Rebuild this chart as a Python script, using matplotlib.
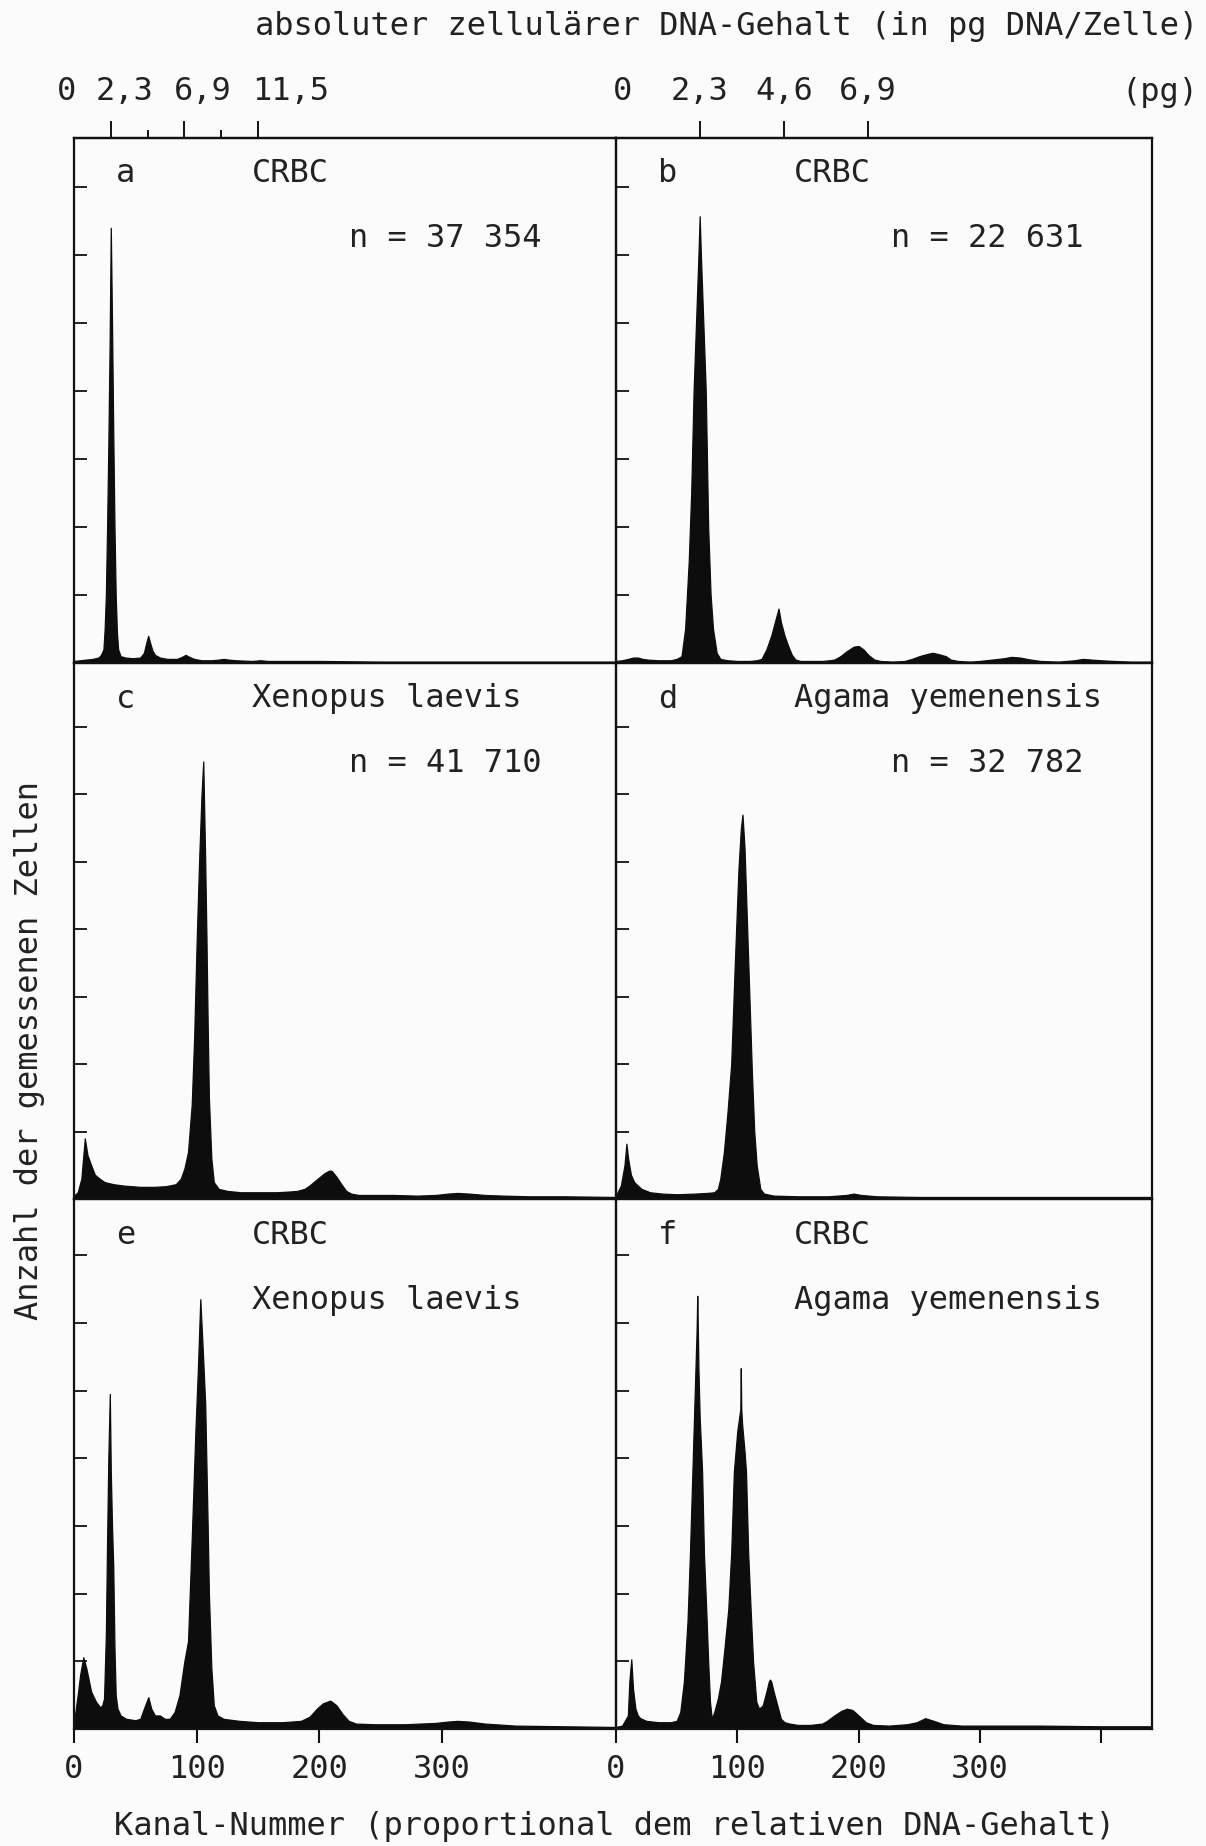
import matplotlib
matplotlib.use('Agg')
import matplotlib.pyplot as plt
import matplotlib.transforms as mtransforms

# ---------------- data (channel number, relative cell count in y-tick units) ----------------
a_ch = [0, 5, 10, 15, 20, 22, 24, 25, 26, 27, 28, 29, 30, 31, 32, 33, 34, 35, 36, 38, 42, 48, 54, 57,
        59, 60.5, 62, 64, 66, 70, 76, 84, 88, 91, 94, 98, 104, 112, 118, 122, 126, 132, 145, 152, 158,
        170, 200, 250, 300, 350, 400, 442]
a_cnt = [0.03, 0.04, 0.05, 0.06, 0.08, 0.12, 0.2, 0.5, 1.0, 2.0, 3.2, 4.6, 6.4, 5.0, 3.4, 2.0, 1.0, 0.45,
         0.2, 0.1, 0.08, 0.07, 0.08, 0.15, 0.3, 0.4, 0.3, 0.18, 0.12, 0.08, 0.06, 0.06, 0.09, 0.12, 0.09,
         0.06, 0.04, 0.04, 0.05, 0.06, 0.05, 0.04, 0.03, 0.04, 0.03, 0.03, 0.03, 0.02, 0.02, 0.02, 0.02, 0.02]

b_ch = [0, 5, 10, 14, 18, 22, 26, 35, 45, 50, 54, 57, 60, 62, 64, 66, 68, 69, 70, 72, 74, 76, 78, 80, 83,
        86, 92, 100, 110, 116, 120, 124, 128, 131, 134, 136, 139, 142, 145, 148, 152, 160, 170, 176, 180,
        185, 190, 196, 200, 204, 208, 213, 218, 228, 238, 244, 250, 256, 261, 266, 272, 276, 282, 292,
        300, 310, 320, 326, 333, 342, 350, 365, 378, 385, 392, 400, 410, 425, 442]
b_cnt = [0.03, 0.04, 0.06, 0.08, 0.08, 0.06, 0.05, 0.04, 0.04, 0.06, 0.1, 0.5, 1.5, 2.5, 4.0, 5.0, 6.0,
         6.57, 6.0, 5.0, 4.0, 2.0, 1.0, 0.5, 0.15, 0.06, 0.04, 0.03, 0.03, 0.04, 0.06, 0.2, 0.4, 0.6, 0.8,
         0.6, 0.4, 0.25, 0.12, 0.05, 0.03, 0.03, 0.03, 0.04, 0.05, 0.1, 0.17, 0.24, 0.25, 0.2, 0.12, 0.05,
         0.03, 0.02, 0.03, 0.06, 0.1, 0.13, 0.15, 0.13, 0.1, 0.05, 0.03, 0.02, 0.03, 0.05, 0.07, 0.09,
         0.08, 0.05, 0.03, 0.02, 0.04, 0.06, 0.05, 0.04, 0.03, 0.02, 0.02]

c_ch = [0, 3, 6, 8.8, 11, 14, 17, 21, 25, 32, 40, 54, 65, 75, 83, 87, 90, 93, 96, 98, 100, 102, 104,
        105.4, 107, 108, 109, 110, 112, 114, 118, 125, 136, 150, 165, 175, 182, 188, 192, 196, 200, 204,
        208, 210, 214, 218, 222, 226, 232, 245, 260, 280, 295, 305, 313, 322, 335, 350, 371, 400, 442]
c_cnt = [0.05, 0.1, 0.3, 0.9, 0.65, 0.5, 0.36, 0.3, 0.25, 0.22, 0.2, 0.18, 0.18, 0.19, 0.22, 0.3, 0.45,
         0.7, 1.4, 2.4, 3.8, 5.0, 6.0, 6.49, 5.0, 3.9, 2.6, 1.5, 0.6, 0.25, 0.15, 0.12, 0.1, 0.1, 0.1,
         0.11, 0.12, 0.15, 0.2, 0.26, 0.32, 0.38, 0.42, 0.42, 0.33, 0.22, 0.12, 0.08, 0.06, 0.06, 0.06,
         0.05, 0.06, 0.08, 0.09, 0.08, 0.06, 0.05, 0.04, 0.04, 0.03]

d_ch = [0, 4, 7, 8.6, 10, 12.3, 15, 21, 28, 38, 50, 65, 75, 81, 84, 86, 89, 92, 95, 98, 101, 103, 104.3,
        106, 108, 110, 112, 114, 116, 119, 122, 130, 150, 175, 190, 196, 202, 215, 250, 300, 350, 400, 442]
d_cnt = [0.05, 0.2, 0.5, 0.82, 0.6, 0.36, 0.25, 0.15, 0.1, 0.08, 0.07, 0.08, 0.09, 0.1, 0.15, 0.3, 0.7,
         1.3, 2.0, 3.5, 4.9, 5.5, 5.7, 5.2, 4.1, 3.0, 1.9, 1.0, 0.5, 0.15, 0.08, 0.05, 0.04, 0.04, 0.06,
         0.08, 0.06, 0.04, 0.03, 0.03, 0.03, 0.03, 0.03]

e_ch = [0, 3, 5, 7.6, 10, 14, 18, 21.5, 23, 24.5, 26, 27, 28, 29.2, 30, 31, 32, 33, 34, 35.5, 38, 42.6,
        50, 54, 57, 60.6, 63, 66, 70, 74, 78, 82, 86, 90, 93, 96, 99, 101, 103, 105, 107, 109, 110, 112,
        114, 117, 122, 135, 150, 170, 185, 192, 198, 203, 209, 214, 219, 224, 230, 245, 270, 295, 305,
        313, 322, 335, 360, 400, 442]
e_cnt = [0.1, 0.5, 0.8, 1.06, 0.9, 0.55, 0.4, 0.32, 0.35, 0.45, 1.4, 2.8, 4.0, 4.95, 3.8, 3.0, 2.4, 1.2,
         0.5, 0.3, 0.2, 0.15, 0.13, 0.15, 0.3, 0.47, 0.3, 0.2, 0.2, 0.15, 0.15, 0.25, 0.5, 1.0, 1.3, 2.8,
         4.4, 5.3, 6.35, 5.6, 4.8, 3.0, 2.0, 0.9, 0.35, 0.2, 0.15, 0.12, 0.1, 0.1, 0.12, 0.18, 0.3, 0.38,
         0.42, 0.35, 0.22, 0.12, 0.08, 0.07, 0.07, 0.09, 0.11, 0.12, 0.11, 0.08, 0.05, 0.04, 0.03]

f_ch = [0, 5, 9.8, 11, 12.6, 14, 16, 18, 20, 25, 35, 45, 50, 53, 56, 59, 61, 63, 65, 66, 66.5, 67, 67.5,
        68, 69, 71, 72.5, 74.4, 76, 77.5, 79, 81, 84, 86.6, 89.5, 92.6, 95, 97.2, 100, 102.5, 102.9, 103.3,
        104, 106, 107.2, 109, 111, 113, 115.7, 118, 121, 124, 126, 127, 128, 130, 133, 136, 139, 143, 150,
        160, 170, 174, 180, 186, 190.5, 195, 200, 206, 212, 225, 240, 248, 255, 262, 270, 285, 310, 350,
        400, 442]
f_cnt = [0.03, 0.05, 0.2, 0.7, 1.03, 0.6, 0.3, 0.2, 0.16, 0.12, 0.1, 0.1, 0.12, 0.25, 0.7, 1.6, 2.6, 3.8,
         5.0, 5.6, 5.9, 6.4, 5.9, 5.3, 4.6, 3.8, 2.6, 1.77, 1.0, 0.4, 0.15, 0.25, 0.45, 0.7, 1.2, 1.77, 2.6,
         3.8, 4.4, 4.72, 5.33, 4.72, 4.5, 4.1, 3.8, 2.6, 1.77, 1.0, 0.4, 0.3, 0.35, 0.55, 0.7, 0.73, 0.7,
         0.55, 0.35, 0.15, 0.1, 0.08, 0.06, 0.06, 0.08, 0.12, 0.2, 0.27, 0.3, 0.28, 0.2, 0.1, 0.06, 0.05,
         0.07, 0.1, 0.16, 0.12, 0.07, 0.05, 0.05, 0.05, 0.04, 0.04]

panel_letters = ['a', 'b', 'c', 'd', 'e', 'f']
panel_line1 = ['CRBC', 'CRBC', 'Xenopus laevis', 'Agama yemenensis', 'CRBC', 'CRBC']
panel_line2 = ['n = 37 354', 'n = 22 631', 'n = 41 710', 'n = 32 782', 'Xenopus laevis', 'Agama yemenensis']

bottom_ticks_left = [0, 100, 200, 300]
bottom_ticks_right = [0, 100, 200, 300, 400]
bottom_labels_right = ['0', '100', '200', '300', '']
top_pg_left_major = [2.3, 6.9, 11.5]
top_pg_left_minor = [4.6, 9.2]
top_pg_left_labels = ['0', '2,3', '6,9', '11,5']
top_pg_right = [2.3, 4.6, 6.9]
top_pg_right_labels = ['0', '2,3', '4,6', '6,9']
ch_per_pg_left = 13.04
ch_per_pg_right = 30.1

# ---------------- layout ----------------
plt.rcParams['font.family'] = ['DejaVu Sans Mono', 'DejaVu Sans']
FS = 23
TXT = '#222222'
INK = '#0d0d0d'
W, H = 1206, 1846
fig = plt.figure(figsize=(W / 100, H / 100), dpi=100, facecolor='#fbfbfb')

col_x = [(74, 616), (616, 1152)]
row_y = [(138, 663), (663, 1199), (1199, 1729)]
row_ylim = [7.72, 7.95, 7.83]
XMAX = 442

data = [(a_ch, a_cnt), (b_ch, b_cnt), (c_ch, c_cnt), (d_ch, d_cnt), (e_ch, e_cnt), (f_ch, f_cnt)]

axes = []
for i, (ch, cnt) in enumerate(data):
    row, col = divmod(i, 2)
    x0, x1 = col_x[col]
    y0, y1 = row_y[row]
    ax = fig.add_axes([x0 / W, 1 - y1 / H, (x1 - x0) / W, (y1 - y0) / H])
    ax.set_facecolor('none')
    ax.fill_between(ch, cnt, 0, color=INK, linewidth=0.9, edgecolor=INK)
    ax.set_xlim(0, XMAX)
    ax.set_ylim(0, row_ylim[row])
    for sp in ax.spines.values():
        sp.set_linewidth(1.6)
        sp.set_color('#111111')
    ax.set_yticks([1, 2, 3, 4, 5, 6, 7])
    ax.tick_params(axis='y', direction='in', length=9, width=1.3, labelleft=False, color='#111111')
    if row == 2:
        if col == 0:
            ax.set_xticks(bottom_ticks_left)
            ax.set_xticklabels([str(t) for t in bottom_ticks_left])
        else:
            ax.set_xticks(bottom_ticks_right)
            ax.set_xticklabels(bottom_labels_right)
        ax.tick_params(axis='x', direction='out', length=10, width=1.5, pad=8,
                       labelsize=FS, labelcolor=TXT, color='#111111')
    else:
        ax.set_xticks([])
    # panel texts
    ax.annotate(panel_letters[i], xy=(0, 1), xycoords='axes fraction', xytext=(52, -36),
                textcoords='offset pixels', ha='center', va='center', fontsize=FS, color=TXT)
    ax.annotate(panel_line1[i], xy=(0, 1), xycoords='axes fraction', xytext=(178, -36),
                textcoords='offset pixels', ha='left', va='center', fontsize=FS, color=TXT)
    x2 = 275 if panel_line2[i].startswith('n') else 178
    ax.annotate(panel_line2[i], xy=(0, 1), xycoords='axes fraction', xytext=(x2, -101),
                textcoords='offset pixels', ha='left', va='center', fontsize=FS, color=TXT)
    axes.append(ax)

# ---------------- top pg axes ----------------
axL, axR = axes[0], axes[1]
secL = axL.secondary_xaxis('top', functions=(lambda c: c / ch_per_pg_left, lambda p: p * ch_per_pg_left))
secL.set_xticks(top_pg_left_major)
secL.set_xticks(top_pg_left_minor, minor=True)
secL.set_xticklabels([''] * len(top_pg_left_major))
secL.tick_params(which='major', direction='out', length=12, width=1.4, color='#111111')
secL.tick_params(which='minor', direction='out', length=6, width=1.4, color='#111111')
secL.spines['top'].set_linewidth(1.6)

secR = axR.secondary_xaxis('top', functions=(lambda c: c / ch_per_pg_right, lambda p: p * ch_per_pg_right))
secR.set_xticks(top_pg_right)
secR.set_xticklabels([''] * len(top_pg_right))
secR.tick_params(which='major', direction='out', length=12, width=1.4, color='#111111')
secR.tick_params(which='minor', length=0)
secR.spines['top'].set_linewidth(1.6)

label_y = 1 - 92 / H
trL = mtransforms.blended_transform_factory(axL.transData, fig.transFigure)
left_label_pos = [-6, 41, 105, 177]
for lab, xpos in zip(top_pg_left_labels, left_label_pos):
    fig.text(xpos, label_y, lab, transform=trL, ha='center', va='center', fontsize=FS, color=TXT)
trR = mtransforms.blended_transform_factory(axR.transData, fig.transFigure)
right_label_pos = [5] + [p * ch_per_pg_right for p in top_pg_right]
for lab, xpos in zip(top_pg_right_labels, right_label_pos):
    fig.text(xpos, label_y, lab, transform=trR, ha='center', va='center', fontsize=FS, color=TXT)

fig.text(1198 / W, label_y, '(pg)', ha='right', va='center', fontsize=FS, color=TXT)
fig.text(1198 / W, 1 - 27 / H, 'absoluter zellulärer DNA-Gehalt (in pg DNA/Zelle)',
         ha='right', va='center', fontsize=FS, color=TXT)
fig.text(615 / W, 1 - 1826 / H, 'Kanal-Nummer (proportional dem relativen DNA-Gehalt)',
         ha='center', va='center', fontsize=FS, color=TXT)
fig.text(30 / W, 1 - 1051 / H, 'Anzahl der gemessenen Zellen', rotation=90,
         ha='center', va='center', fontsize=FS, color=TXT)

fig.savefig('out.png', dpi=100, facecolor=fig.get_facecolor())
